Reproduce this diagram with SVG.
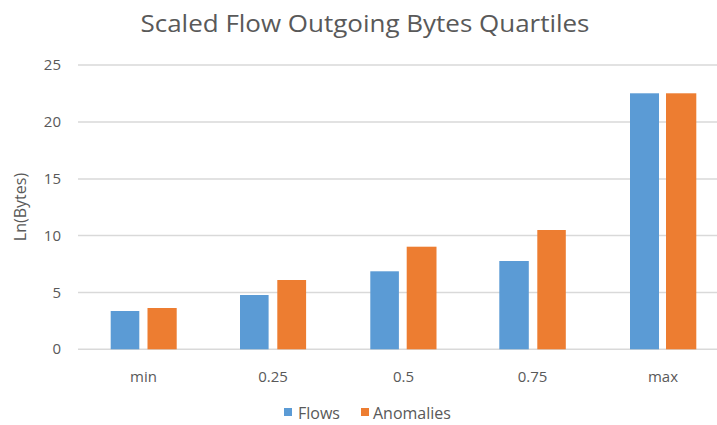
<svg xmlns="http://www.w3.org/2000/svg" width="717" height="425" viewBox="0 0 717 425">
<style>
.grid{stroke:#D9D9D9;stroke-width:1.5}
.t{font-family:"Open Sans","Liberation Sans",sans-serif;fill:#595959}
.ax{font-size:15px}
.flows{fill:#5B9BD5}
.anom{fill:#ED7D31}
</style>
<rect width="717" height="425" fill="#FFFFFF"/>
<text class="t" x="365" y="32" font-size="23" text-anchor="middle" textLength="449" lengthAdjust="spacingAndGlyphs">Scaled Flow Outgoing Bytes Quartiles</text>
<g id="gridlines">
<line class="grid" x1="78" y1="65" x2="717" y2="65"/>
<line class="grid" x1="78" y1="122" x2="717" y2="122"/>
<line class="grid" x1="78" y1="179" x2="717" y2="179"/>
<line class="grid" x1="78" y1="235.6" x2="717" y2="235.6"/>
<line class="grid" x1="78" y1="292.6" x2="717" y2="292.6"/>
<line class="grid" x1="78" y1="349.3" x2="717" y2="349.3"/>
</g>
<g id="yaxis" class="t ax" text-anchor="end">
<text x="61" y="70">25</text>
<text x="61" y="127">20</text>
<text x="61" y="184">15</text>
<text x="61" y="241">10</text>
<text x="61" y="298">5</text>
<text x="61" y="354">0</text>
</g>
<text class="t" font-size="16" text-anchor="middle" transform="translate(26,207) rotate(-90)">Ln(Bytes)</text>
<g id="series-flows" class="flows">
<rect x="110.7" y="311" width="28.6" height="38.3"/>
<rect x="240" y="295" width="28.6" height="54.3"/>
<rect x="370.3" y="271.3" width="28.6" height="78"/>
<rect x="499.3" y="261" width="29.5" height="88.3"/>
<rect x="630" y="93.3" width="29" height="256"/>
</g>
<g id="series-anomalies" class="anom">
<rect x="147.5" y="308" width="29.2" height="41.3"/>
<rect x="277.3" y="280" width="28.8" height="69.3"/>
<rect x="406.7" y="246.7" width="29.8" height="102.6"/>
<rect x="537.3" y="230" width="28.5" height="119.3"/>
<rect x="666" y="93.3" width="30.3" height="256"/>
</g>
<g id="xaxis" class="t ax" text-anchor="middle">
<text x="143.5" y="382">min</text>
<text x="273" y="382">0.25</text>
<text x="403.5" y="382">0.5</text>
<text x="532.5" y="382">0.75</text>
<text x="663" y="382">max</text>
</g>
<g id="legend">
<rect class="flows" x="284" y="408" width="8" height="8"/>
<text class="t" font-size="16" x="298" y="419">Flows</text>
<rect class="anom" x="361" y="408" width="8" height="8"/>
<text class="t" font-size="16" x="373" y="419">Anomalies</text>
</g>
</svg>
